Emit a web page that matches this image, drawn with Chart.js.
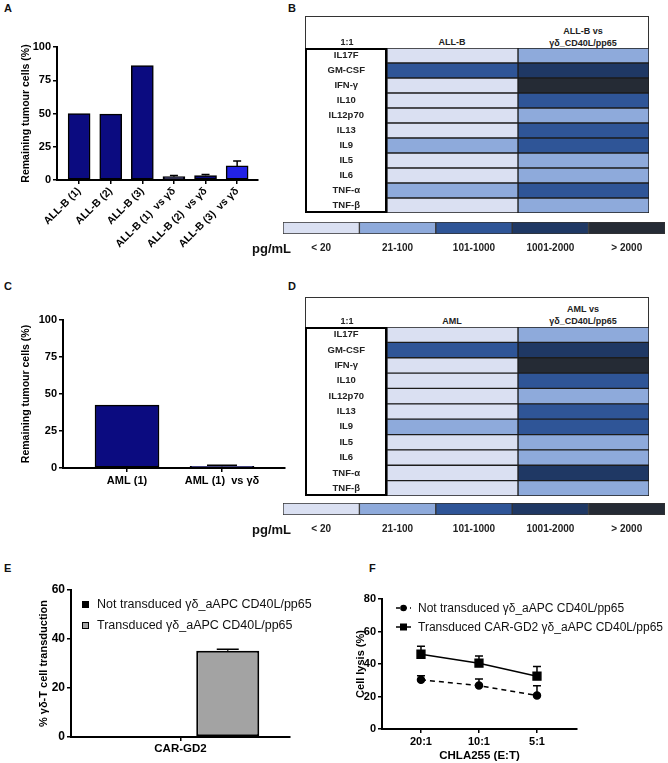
<!DOCTYPE html>
<html>
<head>
<meta charset="utf-8">
<script src="https://cdn.jsdelivr.net/npm/chart.js@4.4.0/dist/chart.umd.min.js"></script>
<style>
  body { margin: 0; background: #fff; }
  #fig { position: relative; width: 668px; height: 763px; overflow: hidden;
         font-family: 'Liberation Sans', Arial, sans-serif; color: #111; }
  .box { position: absolute; }
  .plab { position: absolute; font-weight: bold; font-size: 11px; }
  .hdr { position: absolute; font-weight: bold; font-size: 9px; color: #222;
         transform: translate(-50%, -50%); white-space: nowrap; text-align: center; }
  .frame { position: absolute; box-sizing: border-box; border: 1px solid #333; }
  .labcol { position: absolute; box-sizing: border-box; border: 2px solid #000; pointer-events: none; }
  .unit { position: absolute; font-weight: bold; font-size: 13px; transform: translateY(-50%); }
  .leg { position: absolute; display: flex; align-items: center; height: 16px; white-space: nowrap; }
  .sw { display: inline-block; width: 7px; height: 7px; box-sizing: border-box; border: 1.5px solid #000; }
</style>
</head>
<body>
<div id="fig">
  <div class="plab" style="left:4px;top:2px">A</div>
  <div class="plab" style="left:288px;top:2px">B</div>
  <div class="plab" style="left:4px;top:280px">C</div>
  <div class="plab" style="left:288px;top:280px">D</div>
  <div class="plab" style="left:4px;top:562px">E</div>
  <div class="plab" style="left:369px;top:562px">F</div>

  <div class="box" style="left:0;top:25px"><canvas id="chartA" width="268" height="240"></canvas></div>
  <div class="box" style="left:0;top:300px"><canvas id="chartC" width="295" height="200"></canvas></div>
  <div class="box" style="left:0;top:570px"><canvas id="chartE" width="300" height="193"></canvas></div>
  <div class="box" style="left:340px;top:580px"><canvas id="chartF" width="245" height="183"></canvas></div>

  <!-- B table -->
  <div class="frame" style="left:305px;top:16px;width:344px;height:197px"></div>
  <div class="box" style="left:305px;top:48px"><canvas id="heatB" width="344" height="165"></canvas></div>
  <div class="labcol" style="left:305px;top:48px;width:82px;height:165px"></div>
  <div class="hdr" style="left:347px;top:42px">1:1</div>
  <div class="hdr" style="left:452px;top:42px">ALL-B</div>
  <div class="hdr" style="left:583px;top:31px">ALL-B vs</div>
  <div class="hdr" style="left:583px;top:43px">γδ_CD40L/pp65</div>
  <div class="box" style="left:283px;top:222px"><canvas id="rangeB" width="382" height="36"></canvas></div>
  <div class="unit" style="left:252px;top:248px">pg/mL</div>

  <!-- D table -->
  <div class="frame" style="left:305px;top:297px;width:344px;height:199px"></div>
  <div class="box" style="left:305px;top:327px"><canvas id="heatD" width="344" height="169"></canvas></div>
  <div class="labcol" style="left:305px;top:327px;width:82px;height:169px"></div>
  <div class="hdr" style="left:347px;top:321px">1:1</div>
  <div class="hdr" style="left:452px;top:321px">AML</div>
  <div class="hdr" style="left:583px;top:309px">AML vs</div>
  <div class="hdr" style="left:583px;top:321px">γδ_CD40L/pp65</div>
  <div class="box" style="left:283px;top:503px"><canvas id="rangeD" width="382" height="36"></canvas></div>
  <div class="unit" style="left:252px;top:529px">pg/mL</div>

  <!-- E legend -->
  <div class="leg" style="left:82px;top:596px;font-size:12.5px">
    <span class="sw" style="background:#000;margin-right:8px"></span>Not transduced γδ_aAPC CD40L/pp65</div>
  <div class="leg" style="left:82px;top:617px;font-size:12.5px">
    <span class="sw" style="background:#a3a3a3;margin-right:8px"></span>Transduced γδ_aAPC CD40L/pp65</div>

  <!-- F legend -->
  <div class="leg" style="left:396px;top:600px;font-size:12px">
    <svg width="15" height="8" style="margin-right:7px"><line x1="0" y1="4" x2="15" y2="4" stroke="#000" stroke-width="1.5" stroke-dasharray="4,3"/><circle cx="7.5" cy="4" r="3.3" fill="#000"/></svg>Not transduced γδ_aAPC CD40L/pp65</div>
  <div class="leg" style="left:396px;top:619px;font-size:12px">
    <svg width="15" height="8" style="margin-right:7px"><line x1="0" y1="4" x2="15" y2="4" stroke="#000" stroke-width="1.5"/><rect x="4" y="0.5" width="7" height="7" fill="#000"/></svg>Transduced CAR-GD2 γδ_aAPC CD40L/pp65</div>
</div>

<script>
// panel A
const allbLabels = ['ALL-B (1)', 'ALL-B (2)', 'ALL-B (3)', 'ALL-B (1)  vs γδ', 'ALL-B (2)  vs γδ', 'ALL-B (3)  vs γδ'];
const allbValues = [50, 49.5, 86, 2.5, 3.3, 10.6];
const allbErrors = [0, 0, 0, 0.8, 0.8, 3.6];

// panel C
const amlLabels = ['AML (1)', 'AML (1)  vs γδ'];
const amlValues = [42.5, 1.2];
const amlErrors = [0, 0.6];

// panels B / D (level index into the pg/mL ranges)
const cytokines = ['IL17F', 'GM-CSF', 'IFN-γ', 'IL10', 'IL12p70', 'IL13', 'IL9', 'IL5', 'IL6', 'TNF-α', 'TNF-β'];
const allbLevels = [0, 2, 0, 0, 0, 0, 1, 0, 0, 1, 0];
const allbVsLevels = [1, 3, 4, 2, 1, 2, 2, 1, 1, 2, 1];
const amlLevels = [0, 2, 0, 0, 0, 0, 1, 0, 0, 0, 0];
const amlVsLevels = [1, 3, 4, 2, 1, 2, 2, 1, 1, 3, 1];
const rangeLabels = ['< 20', '21-100', '101-1000', '1001-2000', '> 2000'];
const rangeSwatch = [1, 1, 1, 1, 1];

// panel E
const carLabels = ['CAR-GD2'];
const notTransduced = [0];
const transduced = [35.2];
const transducedErr = [0.6];

// panel F
const ratioLabels = ['20:1', '10:1', '5:1'];
const lysisNot = [30.3, 26.7, 20.6];
const lysisNotErr = [2.5, 4, 6];
const lysisCar = [46, 40.5, 32.5];
const lysisCarErr = [5, 4.5, 6];

const palette = ['#dae0f2', '#8eaadb', '#2f5597', '#1f3864', '#252b35'];
const allbColors = ['#0b0b80', '#0b0b80', '#0b0b80', '#0b0b80', '#0b0b80', '#2222e6'];

Chart.defaults.font.family = "'Liberation Sans', Arial, sans-serif";
Chart.defaults.color = '#000';
Chart.defaults.animation = false;
Chart.defaults.responsive = false;
Chart.defaults.plugins.legend.display = false;
Chart.defaults.plugins.tooltip.enabled = false;

const bold = (size) => ({ size: size, weight: 'bold' });

// upward error bars
const errorBars = {
  id: 'errorBars',
  afterDatasetsDraw(chart) {
    const ctx = chart.ctx;
    const ys = chart.scales.y;
    chart.data.datasets.forEach((ds, i) => {
      if (!ds.errors) return;
      const meta = chart.getDatasetMeta(i);
      ctx.save();
      ctx.strokeStyle = '#000';
      ctx.lineWidth = 1.5;
      meta.data.forEach((el, j) => {
        const e = ds.errors[j];
        if (!e) return;
        const d = ds.data[j];
        const v = typeof d === 'object' ? d.y : d;
        const y0 = ys.getPixelForValue(v);
        const y1 = ys.getPixelForValue(v + e);
        const w = (ds.capWidth || 8) / 2;
        ctx.beginPath();
        ctx.moveTo(el.x, y0);
        ctx.lineTo(el.x, y1);
        ctx.moveTo(el.x - w, y1);
        ctx.lineTo(el.x + w, y1);
        ctx.stroke();
      });
      ctx.restore();
    });
  }
};

function yAxis(max, step, title, width, tickSize, titleSize) {
  return {
    min: 0, max: max,
    ticks: { stepSize: step, font: bold(tickSize), padding: 2 },
    grid: { drawOnChartArea: false, color: '#000', lineWidth: 1.5, tickLength: 4 },
    border: { color: '#000', width: 2 },
    title: { display: true, text: title, font: bold(titleSize), padding: { top: 2, bottom: 0 } },
    afterFit: s => { s.width = width; }
  };
}

function xLinear(labels, min, max, height, extra) {
  return Object.assign({
    type: 'linear', min: min, max: max, offset: false,
    grid: { offset: false, drawOnChartArea: false, color: '#000', lineWidth: 1.5, tickLength: 4 },
    border: { color: '#000', width: 2 },
    afterBuildTicks: s => { s.ticks = labels.map((_, i) => ({ value: i })); },
    ticks: { callback: v => labels[v], font: bold(11), padding: 2, maxRotation: 0, autoSkip: false },
    afterFit: s => { s.height = height; }
  }, extra || {});
}

// A
const xA = xLinear(allbLabels, -0.7, 5.66, 85);
xA.ticks = Object.assign({}, xA.ticks, { minRotation: 45, maxRotation: 45, font: bold(10.5), padding: 1 });
new Chart(document.getElementById('chartA'), {
  type: 'bar',
  data: {
    datasets: [{
      data: allbValues.map((v, i) => ({ x: i, y: v })),
      errors: allbErrors, capWidth: 8,
      backgroundColor: allbColors, borderColor: '#000', borderWidth: 1.5,
      borderSkipped: false, barThickness: 22
    }]
  },
  options: {
    layout: { padding: { left: 18, top: 22, right: 10, bottom: 0 } },
    scales: { x: xA, y: yAxis(100, 25, 'Remaining tumour cells (%)', 39, 11, 10.5) }
  },
  plugins: [errorBars]
});

// C
new Chart(document.getElementById('chartC'), {
  type: 'bar',
  data: {
    datasets: [{
      data: amlValues.map((v, i) => ({ x: i, y: v })),
      errors: amlErrors, capWidth: 30,
      backgroundColor: '#0b0b80', borderColor: '#000', borderWidth: 1.5,
      borderSkipped: false, barThickness: 64
    }]
  },
  options: {
    layout: { padding: { left: 18, top: 20, right: 10, bottom: 0 } },
    scales: { x: xLinear(amlLabels, -0.674, 1.663, 32), y: yAxis(100, 25, 'Remaining tumour cells (%)', 45, 11, 10.5) }
  },
  plugins: [errorBars]
});

// E
new Chart(document.getElementById('chartE'), {
  type: 'bar',
  data: {
    labels: carLabels,
    datasets: [
      { label: 'Not transduced γδ_aAPC CD40L/pp65', data: notTransduced, backgroundColor: '#000',
        borderColor: '#000', borderWidth: 2, borderSkipped: false },
      { label: 'Transduced γδ_aAPC CD40L/pp65', data: transduced, errors: transducedErr, capWidth: 22,
        backgroundColor: '#a3a3a3', borderColor: '#000', borderWidth: 2, borderSkipped: false }
    ]
  },
  options: {
    layout: { padding: { left: 35, top: 20, right: 10, bottom: 0 } },
    datasets: { bar: { barPercentage: 0.667, categoryPercentage: 0.863 } },
    scales: {
      x: {
        grid: { drawOnChartArea: false, offset: false, color: '#000', lineWidth: 1.5, tickLength: 4 },
        border: { color: '#000', width: 2 },
        ticks: { font: bold(11.5), padding: 1 },
        afterFit: s => { s.height = 26; }
      },
      y: yAxis(60, 20, '% γδ-T cell transduction', 36, 12, 11)
    }
  },
  plugins: [errorBars]
});

// F
new Chart(document.getElementById('chartF'), {
  type: 'line',
  data: {
    datasets: [
      { label: 'Not transduced γδ_aAPC CD40L/pp65', data: lysisNot.map((v, i) => ({ x: i, y: v })),
        errors: lysisNotErr, capWidth: 8, borderColor: '#000', borderWidth: 1.5, borderDash: [5, 4],
        pointStyle: 'circle', pointRadius: 3.5, pointBackgroundColor: '#000', pointBorderColor: '#000' },
      { label: 'Transduced CAR-GD2 γδ_aAPC CD40L/pp65', data: lysisCar.map((v, i) => ({ x: i, y: v })),
        errors: lysisCarErr, capWidth: 8, borderColor: '#000', borderWidth: 1.5,
        pointStyle: 'rect', pointRadius: 5.5, pointBackgroundColor: '#000', pointBorderColor: '#000' }
    ]
  },
  options: {
    layout: { padding: { left: 12, top: 19, right: 8, bottom: 0 } },
    scales: {
      x: xLinear(ratioLabels, -0.672, 2.69, 34, {
        title: { display: true, text: 'CHLA255 (E:T)', font: bold(11.5), padding: { top: 0, bottom: 0 } }
      }),
      y: yAxis(80, 20, 'Cell lysis (%)', 30, 11, 11)
    }
  },
  plugins: [errorBars]
});

// B, D heatmaps
function heatmap(id, columns) {
  new Chart(document.getElementById(id), {
    type: 'bar',
    data: {
      labels: cytokines,
      datasets: columns.map((levels, c) => ({
        data: cytokines.map(() => [c, c + 1]),
        backgroundColor: levels.map(l => palette[l]),
        borderColor: '#1c1c1c', borderWidth: 1, borderSkipped: false,
        barPercentage: 1, categoryPercentage: 1, grouped: false
      }))
    },
    options: {
      indexAxis: 'y',
      layout: { padding: 0 },
      scales: {
        x: { type: 'linear', min: 0, max: 2, display: false },
        y: {
          grid: { display: false, drawTicks: false, tickLength: 0 },
          border: { display: false },
          ticks: { font: bold(9.5), color: '#222', crossAlign: 'center', padding: 22, autoSkip: false },
          afterFit: s => { s.width = 82; s.paddingTop = 0; s.paddingBottom = 0; }
        }
      }
    }
  });
}
heatmap('heatB', [allbLevels, allbVsLevels]);
heatmap('heatD', [amlLevels, amlVsLevels]);

function rangeBar(id) {
  new Chart(document.getElementById(id), {
    type: 'bar',
    data: {
      labels: rangeLabels,
      datasets: [{
        data: rangeSwatch, backgroundColor: palette, borderColor: '#333', borderWidth: 1,
        borderSkipped: false, barPercentage: 1, categoryPercentage: 1
      }]
    },
    options: {
      layout: { padding: 0 },
      scales: {
        y: { min: 0, max: 1, display: false },
        x: {
          grid: { display: false, drawTicks: false },
          border: { display: false },
          ticks: { font: bold(10), color: '#222', padding: 8, maxRotation: 0 },
          afterFit: s => { s.height = 24; s.paddingLeft = 0; s.paddingRight = 0; }
        }
      }
    }
  });
}
rangeBar('rangeB');
rangeBar('rangeD');
</script>
</body>
</html>
